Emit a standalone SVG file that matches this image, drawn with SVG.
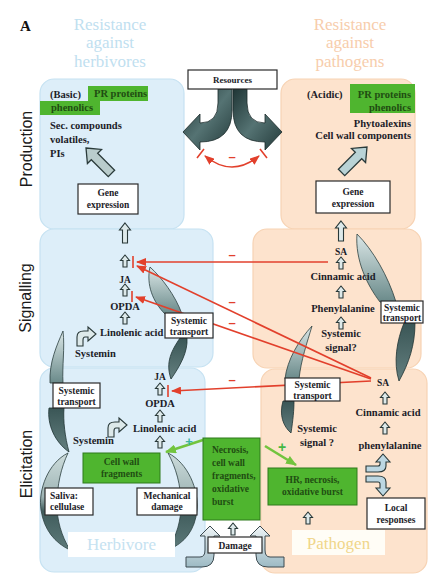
<svg xmlns="http://www.w3.org/2000/svg" width="440" height="585" viewBox="0 0 440 585">
<defs>
<style>
.t{font-family:"Liberation Serif","Times New Roman",serif;font-weight:bold;font-size:10.5px;fill:#1c1c28}
.s{font-size:9.5px}
.c{text-anchor:middle}
.e{text-anchor:end}
.g{fill:#1f4d12}
.row{font-family:"Liberation Sans",Arial,sans-serif;font-size:16px;fill:#1a1a1a;text-anchor:middle}
.title{font-family:"Liberation Serif","Times New Roman",serif;font-size:17px;text-anchor:middle}
.box{fill:#fff;stroke:#2a2a2a;stroke-width:1.2}
.gbox{fill:#4fb52f;stroke:#2f7a1c;stroke-width:1}
.pb{fill:#ddeef9;stroke:#c6e2f2;stroke-width:1.2}
.po{fill:#fde3cd;stroke:#f7d3b4;stroke-width:1.2}
.ua{fill:#dde9ea;stroke:#283838;stroke-width:1.1}
.red{stroke:#e2402c;stroke-width:1.6;fill:none}
.grn{stroke:#72c43e;stroke-width:2.6;fill:none}
.minus{font-family:"Liberation Sans",Arial,sans-serif;font-size:13px;font-weight:bold;fill:#e2402c;text-anchor:middle}
.bl{fill:url(#gl);stroke:#2c4040;stroke-width:0.8}
.bd{fill:url(#gd);stroke:#1f3333;stroke-width:0.8}
</style>
<linearGradient id="gl" x1="0" y1="0" x2="0" y2="1"><stop offset="0" stop-color="#dbe7e7"/><stop offset="1" stop-color="#6a8a8a"/></linearGradient>
<linearGradient id="gd" x1="0" y1="0" x2="0" y2="1"><stop offset="0" stop-color="#3a5656"/><stop offset="1" stop-color="#647f7f"/></linearGradient>
<linearGradient id="gc" x1="0" y1="0" x2="0" y2="1"><stop offset="0" stop-color="#cddcdc"/><stop offset="0.45" stop-color="#9fb5b5"/><stop offset="0.6" stop-color="#405c5c"/><stop offset="1" stop-color="#5d7a7a"/></linearGradient>
<linearGradient id="gr" x1="0" y1="0" x2="1" y2="1"><stop offset="0" stop-color="#1f3535"/><stop offset="0.5" stop-color="#557373"/><stop offset="1" stop-color="#233a3a"/></linearGradient>
<linearGradient id="gdm" x1="0" y1="0" x2="0" y2="1"><stop offset="0" stop-color="#eef4f6"/><stop offset="1" stop-color="#9dbac4"/></linearGradient>
<marker id="ra" markerWidth="10" markerHeight="8" refX="9" refY="4" orient="auto-start-reverse" markerUnits="userSpaceOnUse"><path d="M0,0 L10,4 L0,8 Z" fill="#e2402c"/></marker>
<marker id="ga" markerWidth="11" markerHeight="9" refX="10" refY="4.5" orient="auto" markerUnits="userSpaceOnUse"><path d="M0,0 L11,4.5 L0,9 Z" fill="#72c43e"/></marker>
<path id="ua" d="M0,0 L4.5,5.5 L2,5.5 L2,12 L-2,12 L-2,5.5 L-4.5,5.5 Z"/>
<path id="ub" d="M0,0 L5.5,7 L2.5,7 L2.5,20 L-2.5,20 L-2.5,7 L-5.5,7 Z"/>
<path id="bigarr" d="M0,0 L10,12 L4.5,12 L4.5,36 L-4.5,36 L-4.5,12 L-10,12 Z"/>
<path id="sa" d="M0,18 L0,9 Q0,3 7,3 L11,3 L11,-1 L19,6 L11,13 L11,9 L8,9 Q6,9 6,12 L6,18 Z"/>
</defs>

<g id="panels">
<rect class="pb" x="40" y="79" width="144" height="150" rx="14"/>
<rect class="pb" x="40" y="229" width="173" height="138" rx="14"/>
<rect class="pb" x="40" y="368" width="165" height="204" rx="14"/>
<rect class="po" x="281" y="79" width="134" height="150" rx="14"/>
<rect class="po" x="253" y="229" width="168" height="139" rx="14"/>
<rect class="po" x="261" y="369" width="166" height="204" rx="14"/>
</g>

<g id="titles">
<text x="20" y="31" style="font-family:'Liberation Serif',serif;font-weight:bold;font-size:15px;fill:#111">A</text>
<text class="title" fill="#bfe0f0" x="110" y="30">Resistance</text>
<text class="title" fill="#bfe0f0" x="110" y="48">against</text>
<text class="title" fill="#bfe0f0" x="110" y="67">herbivores</text>
<text class="title" fill="#f7cdac" x="350" y="30">Resistance</text>
<text class="title" fill="#f7cdac" x="350" y="48">against</text>
<text class="title" fill="#f7cdac" x="350" y="67">pathogens</text>
<text class="row" transform="translate(32,149) rotate(-90)">Production</text>
<text class="row" transform="translate(31,298) rotate(-90)">Signalling</text>
<text class="row" transform="translate(32,464) rotate(-90)">Elicitation</text>
</g>

<g id="blades">
<path class="bl" d="M63,331 C57,345 49,362 50,383 L63,383 C62,366 65,348 63,331 Z"/>
<path class="bd" d="M49,408 C47,425 55,442 69,452 C65,437 63,421 64,408 Z"/>
<path d="M68,453 C48,463 38,490 41,510 C44,530 55,543 70,550 C61,535 57,520 57,505 C57,485 61,468 68,453 Z" fill="url(#gc)" stroke="#2c4040" stroke-width="0.8"/>
<path d="M168,453 C188,463 199,490 197,510 C195,530 185,543 168,550 C177,535 181,520 181,505 C181,485 176,468 168,453 Z" fill="url(#gc)" stroke="#2c4040" stroke-width="0.8"/>
<path class="bl" d="M150,267 C146,285 153,302 165,314 L182,314 C175,295 162,278 150,267 Z"/>
<path class="bd" d="M180,338 C172,350 165,362 171,379 C180,366 188,352 187,338 Z"/>
<path class="bl" d="M357,234 C355,260 367,285 380,302 L396,302 C388,276 373,250 357,234 Z"/>
<path class="bd" d="M404,323 C397,340 393,362 399,381 C409,363 415,345 415,323 Z"/>
<path class="bl" d="M312,326 C299,340 287,360 285,379 L299,379 C301,360 307,343 312,326 Z"/>
<path class="bd" d="M283,401 C279,415 283,426 291,433 C293,420 294,410 294,401 Z"/>
</g>

<g id="connectors">
<path class="red" d="M328,262 L137,262" marker-end="url(#ra)"/>
<path class="red" d="M371,378 L137,266" marker-end="url(#ra)"/>
<path class="red" d="M371,379 L136,297" marker-end="url(#ra)"/>
<path class="red" d="M371,381 L172,391" marker-end="url(#ra)"/>
<path class="red" d="M133,256 V268 M132,291 V302 M168,385 V397"/>
<text class="minus" x="232" y="259">–</text>
<text class="minus" x="232" y="306">–</text>
<text class="minus" x="232" y="327">–</text>
<text class="minus" x="232" y="384">–</text>
<path class="red" d="M205,156 Q232,178 259,156" marker-start="url(#ra)" marker-end="url(#ra)"/>
<path class="red" d="M197,158 L204,149 M260,149 L267,158"/>
<text class="minus" x="232" y="161">–</text>
<path class="grn" d="M203,440 L166,452" marker-end="url(#ga)"/>
<path class="grn" d="M265,446 L296,465" marker-end="url(#ga)"/>
<text x="189" y="446" style="font-family:'Liberation Sans',sans-serif;font-size:13px;font-weight:bold;fill:#3cb4a0" text-anchor="middle">+</text>
<text x="282" y="452" style="font-family:'Liberation Sans',sans-serif;font-size:14px;font-weight:bold;fill:#44b844" text-anchor="middle">+</text>
<g class="ua">
<use href="#ub" x="125" y="223"/>
<use href="#ua" x="125" y="255"/>
<use href="#ua" x="125" y="284"/>
<use href="#ua" x="125" y="312"/>
<use href="#ua" x="160" y="383"/>
<use href="#ua" x="160" y="410"/>
<use href="#ua" x="160" y="436"/>
<use href="#ub" x="341" y="221"/>
<use href="#ua" x="341" y="257"/>
<use href="#ua" x="341" y="286"/>
<use href="#ua" x="341" y="317"/>
<use href="#ua" x="385" y="392"/>
<use href="#ua" x="385" y="422"/>
<use href="#ua" x="233" y="523"/>
<use href="#ua" x="308" y="512"/>
<use href="#sa" x="77" y="328"/>
<use href="#sa" x="108" y="419"/>
<path d="M366,466 L378,466 Q380,466 380,464 L380,462 L376,462 L383,454 L390,462 L386,462 L386,466 Q386,472 378,472 L366,472 Z" fill="#bcd7e2"/>
<path d="M366,476 L378,476 Q386,476 386,482 L386,488 L390,488 L383,496 L376,488 L380,488 L380,484 Q380,482 378,482 L366,482 Z" fill="#bcd7e2"/>
</g>
<use href="#bigarr" transform="translate(86,148) rotate(-45)" fill="#b9cccc" stroke="#2a3a3a" stroke-width="1.3"/>
<use href="#bigarr" transform="translate(367,147) rotate(45)" fill="#b9d3d6" stroke="#2a3a3a" stroke-width="1.3"/>
<path d="M186,557 L200,557 Q205,557 205,550 L205,536 L200,536 L210,526 L220,536 L214,536 L214,555 Q214,567 202,567 L186,567 Z" fill="url(#gdm)" stroke="#3c4a50" stroke-width="1"/>
<path d="M284,557 L270,557 Q265,557 265,550 L265,536 L270,536 L260,526 L250,536 L256,536 L256,555 Q256,567 268,567 L284,567 Z" fill="url(#gdm)" stroke="#3c4a50" stroke-width="1"/>
</g>

<g id="resources">
<path d="M218,89 L218,103 Q218,123 200,123 L200,114 L183,132 L200,150 L200,142 Q232,142 232,110 L232,89 Z" fill="url(#gr)" stroke="#1a2a2a" stroke-width="0.8"/>
<path d="M247,89 L247,103 Q247,123 265,123 L265,114 L282,132 L265,150 L265,142 Q233,142 233,110 L233,89 Z" fill="url(#gr)" stroke="#1a2a2a" stroke-width="0.8"/>
<rect class="box" x="188" y="70" width="89" height="19"/>
<text class="t c" x="232.5" y="83" style="font-size:9px">Resources</text>
</g>

<g id="herb-production">
<rect x="88" y="86" width="60" height="15" fill="#4fb52f"/>
<rect x="40" y="101" width="60" height="14" fill="#4fb52f"/>
<text class="t" x="50" y="98">(Basic)</text>
<text class="t g" x="94" y="97">PR proteins</text>
<text class="t g" x="51" y="111">phenolics</text>
<text class="t" x="50" y="129">Sec. compounds</text>
<text class="t" x="50" y="143">volatiles,</text>
<text class="t" x="50" y="157">PIs</text>
</g>
<g id="herb-gene">
<rect class="box" x="78" y="184" width="60" height="30"/>
<text class="t c s" x="108" y="196">Gene</text>
<text class="t c s" x="108" y="208">expression</text>
</g>
<g id="herb-signalling">
<text class="t c s" x="125" y="283">JA</text>
<text class="t c" x="125" y="310">OPDA</text>
<text class="t" x="100" y="336">Linolenic acid</text>
<text class="t" x="75" y="357">Systemin</text>
</g>
<g id="herb-transport-sig">
<rect class="box" x="165" y="313" width="48" height="25"/>
<text class="t c s" x="189" y="324">Systemic</text>
<text class="t c s" x="189" y="335">transport</text>
</g>
<g id="herb-elicitation">
<text class="t c s" x="160" y="380">JA</text>
<text class="t c" x="160" y="407">OPDA</text>
<text class="t" x="133" y="432">Linolenic acid</text>
<text class="t" x="73" y="444">Systemin</text>
</g>
<g id="herb-transport-eli">
<rect class="box" x="53" y="383" width="47" height="25"/>
<text class="t c s" x="76.5" y="394">Systemic</text>
<text class="t c s" x="76.5" y="405">transport</text>
</g>
<g id="cell-wall-fragments">
<rect class="gbox" x="83" y="453" width="77" height="30"/>
<text class="t c s g" x="121.5" y="465">Cell wall</text>
<text class="t c s g" x="121.5" y="477">fragments</text>
</g>
<g id="saliva">
<rect class="box" x="45" y="488" width="48" height="27"/>
<text class="t s" x="50" y="499">Saliva:</text>
<text class="t s" x="50" y="510">cellulase</text>
</g>
<g id="mechanical">
<rect class="box" x="137" y="488" width="60" height="27"/>
<text class="t c s" x="167" y="499">Mechanical</text>
<text class="t c s" x="167" y="510">damage</text>
</g>
<g id="herbivore">
<rect x="68" y="532" width="107" height="25" fill="#fff"/>
<text class="title" fill="#c5e2f1" x="121.5" y="550">Herbivore</text>
</g>

<g id="necrosis">
<rect class="gbox" x="203" y="438" width="57" height="82"/>
<text class="t s g" x="212" y="453">Necrosis,</text>
<text class="t s g" x="212" y="466">cell wall</text>
<text class="t s g" x="212" y="479">fragments,</text>
<text class="t s g" x="212" y="492">oxidative</text>
<text class="t s g" x="212" y="505">burst</text>
</g>
<g id="damage">
<rect class="box" x="208" y="537" width="54" height="16"/>
<text class="t c s" x="235" y="549">Damage</text>
</g>

<g id="path-production">
<rect x="350" y="84" width="65" height="29" fill="#4fb52f"/>
<text class="t" x="307" y="98">(Acidic)</text>
<text class="t e g" x="411" y="98">PR proteins</text>
<text class="t e g" x="411" y="111">phenolics</text>
<text class="t e" x="411" y="127">Phytoalexins</text>
<text class="t e" x="411" y="139">Cell wall components</text>
</g>
<g id="path-gene">
<rect class="box" x="316" y="181" width="74" height="32"/>
<text class="t c s" x="353" y="195">Gene</text>
<text class="t c s" x="353" y="207">expression</text>
</g>
<g id="path-signalling">
<text class="t c s" x="341" y="255">SA</text>
<text class="t c" x="343" y="280">Cinnamic acid</text>
<text class="t c" x="343" y="312">Phenylalanine</text>
<text class="t c" x="341" y="337">Systemic</text>
<text class="t c" x="341" y="351">signal?</text>
</g>
<g id="path-transport-sig">
<rect class="box" x="381" y="301" width="42" height="22"/>
<text class="t c s" x="402" y="311">Systemic</text>
<text class="t c s" x="402" y="321">transport</text>
</g>
<g id="path-elicitation">
<text class="t c s" x="383" y="386">SA</text>
<text class="t c" x="388" y="416">Cinnamic acid</text>
<text class="t c" x="390" y="449">phenylalanine</text>
<text class="t c" x="317" y="432">Systemic</text>
<text class="t c" x="317" y="446">signal ?</text>
</g>
<g id="path-transport-eli">
<rect class="box" x="285" y="378" width="55" height="23"/>
<text class="t c s" x="312.5" y="388">Systemic</text>
<text class="t c s" x="312.5" y="399">transport</text>
</g>
<g id="hr">
<rect class="gbox" x="268" y="468" width="89" height="37"/>
<text class="t c s g" x="312.5" y="483">HR,  necrosis,</text>
<text class="t c s g" x="312.5" y="495">oxidative burst</text>
</g>
<g id="local">
<rect class="box" x="367" y="498" width="58" height="31"/>
<text class="t c s" x="396" y="511">Local</text>
<text class="t c s" x="396" y="523">responses</text>
</g>
<g id="pathogen">
<rect x="292" y="530" width="93" height="25" fill="#fffdf6"/>
<text class="title" fill="#f0d68a" x="338.5" y="549">Pathogen</text>
</g>
</svg>
